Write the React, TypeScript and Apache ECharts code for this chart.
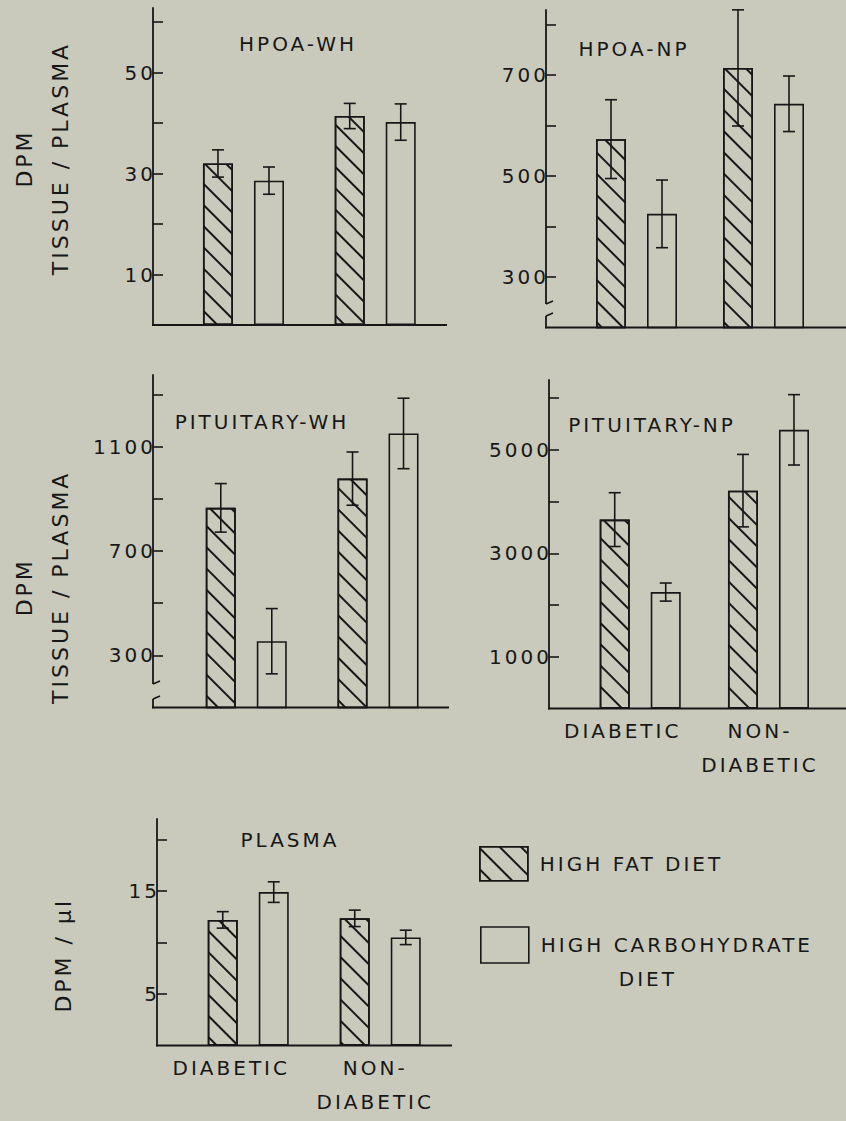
import React, { useEffect, useRef } from 'react';
import * as echarts from 'echarts';

// ---------------- data ----------------
const groups = ['DIABETIC', 'NON-DIABETIC'];
const dietNames = ['HIGH FAT DIET', 'HIGH CARBOHYDRATE DIET'];

const hpoaWhFat = [32, 41.4];
const hpoaWhFatErr = [2.7, 2.5];
const hpoaWhCarb = [28.6, 40.2];
const hpoaWhCarbErr = [2.7, 3.6];
const hpoaWhTicks = [10, 20, 30, 40, 50, 60];
const hpoaWhLabels = [10, 30, 50];

const hpoaNpFat = [573, 714];
const hpoaNpFatErr = [78, 115];
const hpoaNpCarb = [425, 643];
const hpoaNpCarbErr = [67, 55];
const hpoaNpTicks = [300, 400, 500, 600, 700, 800];
const hpoaNpLabels = [300, 500, 700];

const pitWhFat = [865, 977];
const pitWhFatErr = [93, 102];
const pitWhCarb = [354, 1150];
const pitWhCarbErr = [125, 135];
const pitWhTicks = [300, 500, 700, 900, 1100, 1300];
const pitWhLabels = [300, 700, 1100];

const pitNpFat = [3650, 4210];
const pitNpFatErr = [520, 700];
const pitNpCarb = [2250, 5385];
const pitNpCarbErr = [175, 680];
const pitNpTicks = [1000, 2000, 3000, 4000, 5000, 6000];
const pitNpLabels = [1000, 3000, 5000];

const plasmaFat = [12.2, 12.35];
const plasmaFatErr = [0.8, 0.8];
const plasmaCarb = [14.9, 10.5];
const plasmaCarbErr = [1.0, 0.7];
const plasmaTicks = [5, 10, 15, 20];
const plasmaLabels = [5, 15];

const panels = [
  { title: 'HPOA-WH', fat: hpoaWhFat, fatErr: hpoaWhFatErr, carb: hpoaWhCarb, carbErr: hpoaWhCarbErr, ticks: hpoaWhTicks, labels: hpoaWhLabels, min: 0, max: 62.8, yName: 'DPM\nTISSUE / PLASMA' },
  { title: 'HPOA-NP', fat: hpoaNpFat, fatErr: hpoaNpFatErr, carb: hpoaNpCarb, carbErr: hpoaNpCarbErr, ticks: hpoaNpTicks, labels: hpoaNpLabels, min: 200, max: 828.7, yName: '' },
  { title: 'PITUITARY-WH', fat: pitWhFat, fatErr: pitWhFatErr, carb: pitWhCarb, carbErr: pitWhCarbErr, ticks: pitWhTicks, labels: pitWhLabels, min: 100, max: 1374, yName: 'DPM\nTISSUE / PLASMA' },
  { title: 'PITUITARY-NP', fat: pitNpFat, fatErr: pitNpFatErr, carb: pitNpCarb, carbErr: pitNpCarbErr, ticks: pitNpTicks, labels: pitNpLabels, min: 0, max: 6348, yName: '' },
  { title: 'PLASMA', fat: plasmaFat, fatErr: plasmaFatErr, carb: plasmaCarb, carbErr: plasmaCarbErr, ticks: plasmaTicks, labels: plasmaLabels, min: 0, max: 22.0, yName: 'DPM / \u03bcl' },
];

// ---------------- layout ----------------
const layouts = [
  { left: 177.6, width: 263.5, top: 8, height: 317, axisX: 153, baseEnd: 447, titleX: 298, titleY: 44, nameGap: 75, nameShift: -8, showX: false, padA: 0, padB: 0, brk: null as null | number[] },
  { left: 573, width: 254, top: 10, height: 317.5, axisX: 546, baseEnd: 846, titleX: 634, titleY: 49, nameGap: 75, nameShift: 0, showX: false, padA: 0, padB: 0, brk: [304, 316] },
  { left: 180.4, width: 263.5, top: 375, height: 332.5, axisX: 153, baseEnd: 449, titleX: 262, titleY: 422, nameGap: 75, nameShift: 46, showX: false, padA: 0, padB: 0, brk: [684, 699] },
  { left: 576.1, width: 256.5, top: 380, height: 328.5, axisX: 549, baseEnd: 846, titleX: 652, titleY: 425, nameGap: 75, nameShift: 0, showX: true, padA: 35, padB: 17, brk: null },
  { left: 182.25, width: 264, top: 819, height: 226.5, axisX: 157, baseEnd: 452, titleX: 290, titleY: 840, nameGap: 76, nameShift: 23, showX: true, padA: 34, padB: 10, brk: null },
];

const BG = '#c9cabc';
const INK = '#171717';
const FONT = 'DejaVu Sans';
const BAR_W = 30;
const BAR_GAP = 0.7;
const ERR_OFF = (BAR_W * (1 + BAR_GAP)) / 2;
const CAP = 6;

const HATCH = {
  symbol: 'rect',
  symbolSize: 1,
  color: INK,
  dashArrayX: [1, 0],
  dashArrayY: [1.7, 13],
  rotation: Math.PI / 4,
};

function buildOption() {
  const grid: any[] = [];
  const xAxis: any[] = [];
  const yAxis: any[] = [];
  const series: any[] = [];
  const title: any[] = [];
  const graphic: any[] = [];

  panels.forEach((p, i) => {
    const L = layouts[i];
    grid.push({ left: L.left, top: L.top, width: L.width, height: L.height, containLabel: false, outerBoundsMode: 'none' });
    xAxis.push({
      type: 'category',
      gridIndex: i,
      data: groups,
      axisLine: { show: false },
      axisTick: { show: false },
      splitLine: { show: false },
      axisLabel: L.showX
        ? {
            show: true,
            margin: 5,
            interval: 0,
            formatter: (v: string) => (v === 'DIABETIC' ? '{a|DIABETIC}' : '{b|NON-}\n{b|DIABETIC}'),
            rich: {
              a: { fontFamily: FONT, fontSize: 20, color: INK, lineHeight: 34, padding: [0, L.padA, 0, 0] },
              b: { fontFamily: FONT, fontSize: 20, color: INK, lineHeight: 34, padding: [0, L.padB, 0, 0] },
            },
          }
        : { show: false },
    });
    const shift = L.nameShift;
    yAxis.push({
      type: 'value',
      gridIndex: i,
      min: p.min,
      max: p.max,
      offset: L.left - L.axisX,
      splitLine: { show: false },
      axisLine: { show: true, lineStyle: { color: INK, width: 1.8 } },
      axisTick: { show: true, inside: true, length: 10, lineStyle: { color: INK, width: 1.6 }, customValues: p.ticks },
      axisLabel: { customValues: p.labels, margin: -3, fontFamily: FONT, fontSize: 20, color: INK, formatter: (v: number) => String(v) },
      name: p.yName,
      nameLocation: 'middle',
      nameRotate: 90,
      nameGap: L.nameGap,
      nameTextStyle: {
        fontFamily: FONT,
        fontSize: 22,
        color: INK,
        lineHeight: 36,
        padding: shift >= 0 ? [0, shift * 2, 0, 0] : [0, 0, 0, -shift * 2],
      },
    });
    series.push({
      type: 'bar',
      name: dietNames[0],
      xAxisIndex: i,
      yAxisIndex: i,
      data: p.fat,
      barWidth: BAR_W,
      barGap: `${BAR_GAP * 100}%`,
      silent: true,
      itemStyle: { color: BG, borderColor: INK, borderWidth: 1.6, decal: HATCH },
    });
    series.push({
      type: 'bar',
      name: dietNames[1],
      xAxisIndex: i,
      yAxisIndex: i,
      data: p.carb,
      barWidth: BAR_W,
      barGap: `${BAR_GAP * 100}%`,
      silent: true,
      itemStyle: { color: BG, borderColor: INK, borderWidth: 1.6 },
    });
    const errData: number[][] = [];
    p.fat.forEach((v, k) => errData.push([k, v, p.fatErr[k], -1]));
    p.carb.forEach((v, k) => errData.push([k, v, p.carbErr[k], 1]));
    series.push({
      type: 'custom',
      name: 'SEM',
      xAxisIndex: i,
      yAxisIndex: i,
      data: errData,
      silent: true,
      z: 10,
      renderItem: (_params: any, api: any) => {
        const cat = api.value(0);
        const v = api.value(1);
        const e = api.value(2);
        const side = api.value(3);
        const t = api.coord([cat, v + e]);
        const b = api.coord([cat, v - e]);
        const x = t[0] + side * ERR_OFF;
        const st = { stroke: INK, lineWidth: 1.6 };
        return {
          type: 'group',
          children: [
            { type: 'line', shape: { x1: x, y1: t[1], x2: x, y2: b[1] }, style: st },
            { type: 'line', shape: { x1: x - CAP, y1: t[1], x2: x + CAP, y2: t[1] }, style: st },
            { type: 'line', shape: { x1: x - CAP, y1: b[1], x2: x + CAP, y2: b[1] }, style: st },
          ],
        };
      },
    });
    title.push({
      text: p.title,
      left: L.titleX,
      top: L.titleY,
      textAlign: 'center',
      textVerticalAlign: 'middle',
      padding: 0,
      textStyle: { fontFamily: FONT, fontSize: 20, fontWeight: 'normal', color: INK },
    });
    const baseY = L.top + L.height;
    graphic.push({
      type: 'line',
      z: 50,
      shape: { x1: L.axisX - 1, y1: baseY, x2: L.baseEnd, y2: baseY },
      style: { stroke: INK, lineWidth: 1.8 },
    });
    if (L.brk) {
      const [y0, y1] = L.brk;
      graphic.push({ type: 'rect', z: 60, shape: { x: L.axisX - 4, y: y0, width: 8, height: y1 - y0 }, style: { fill: BG } });
      graphic.push({ type: 'line', z: 61, shape: { x1: L.axisX, y1: y0, x2: L.axisX + 7, y2: y0 - 3 }, style: { stroke: INK, lineWidth: 1.6 } });
      graphic.push({ type: 'line', z: 61, shape: { x1: L.axisX, y1: y1, x2: L.axisX + 7, y2: y1 - 3 }, style: { stroke: INK, lineWidth: 1.6 } });
    }
  });

  const legendText = { fontFamily: FONT, fontSize: 20, color: INK };
  return {
    animation: false,
    backgroundColor: BG,
    title,
    grid,
    xAxis,
    yAxis,
    series,
    graphic: { elements: graphic },
    legend: [
      {
        data: [dietNames[0]],
        left: 479,
        top: 846,
        orient: 'vertical',
        icon: 'rect',
        itemWidth: 48,
        itemHeight: 34,
        padding: 0,
        selectedMode: false,
        itemStyle: { color: BG, borderColor: INK, borderWidth: 1.6 },
        textStyle: { ...legendText, padding: [0, 0, 0, 7] },
      },
      {
        data: [dietNames[1]],
        left: 480,
        top: 894,
        orient: 'vertical',
        icon: 'rect',
        itemWidth: 48,
        itemHeight: 36,
        padding: 0,
        selectedMode: false,
        itemStyle: { color: BG, borderColor: INK, borderWidth: 1.6 },
        formatter: () => 'HIGH CARBOHYDRATE\n{pad|}DIET',
        textStyle: { ...legendText, lineHeight: 34, padding: [34, 0, 0, 7], rich: { pad: { width: 78, lineHeight: 34 } } },
      },
    ],
  };
}

export default function App() {
  const ref = useRef<HTMLDivElement>(null);
  useEffect(() => {
    document.body.style.margin = '0';
    document.body.style.background = BG;
    if (!ref.current) return;
    const chart = echarts.init(ref.current, null, { renderer: 'svg' });
    chart.setOption(buildOption() as any);
    return () => chart.dispose();
  }, []);
  return (
    <>
      <style>{'#fig svg text{letter-spacing:3px}'}</style>
      <div id="fig" ref={ref} style={{ width: 846, height: 1121, background: BG }} />
    </>
  );
}
